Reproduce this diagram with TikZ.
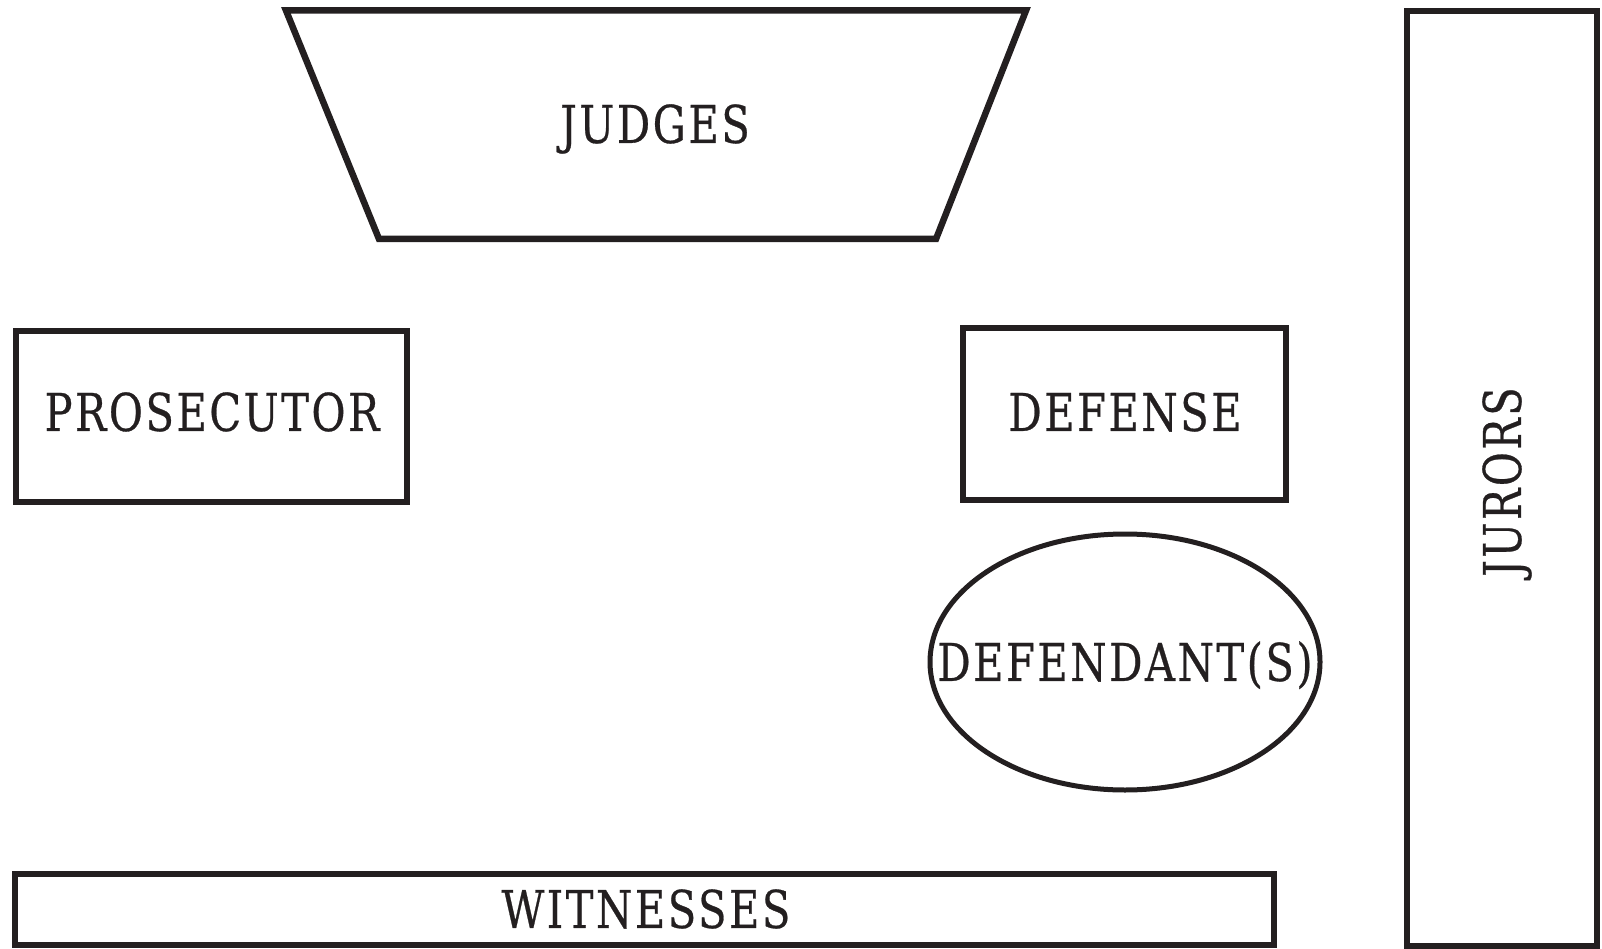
\documentclass[tikz,border=0pt]{standalone}
\usepackage{fontspec}
\setmainfont{DejaVu Serif}
\usepackage{graphicx}
\definecolor{ink}{HTML}{231F20}
\newcommand\lblt[1]{\scalebox{0.8}[1]{\addfontfeature{LetterSpace=6,FakeBold=0.6}#1}}
\begin{document}
\begin{tikzpicture}[x=1pt,y=-1pt,
  box/.style={draw=ink, line width=6.5pt, inner sep=0pt, outer sep=0pt},
  lbl/.style={text=ink, inner sep=0pt, font=\fontsize{52}{60}\selectfont, text height=37.8pt, text depth=0pt}]
\useasboundingbox (0,0) rectangle (1602,949);
% judges bench
\coordinate (j1) at (286,10.5);
\coordinate (j2) at (1026,10.5);
\coordinate (j3) at (936,239);
\coordinate (j4) at (379,239);
\draw[ink, line width=6.5pt, line join=miter] (j1) -- (j2) -- (j3) -- (j4) -- cycle;
\node[lbl] (judges) at (655,124) {\lblt{JUDGES}};
% prosecutor
\node[box, minimum width=391pt, minimum height=171pt] (prosbox) at (211.5,416.5) {};
\node[lbl] (pros) at (212,412) {\lblt{PROSECUTOR}};
% defense
\node[box, minimum width=323pt, minimum height=172pt] (defbox) at (1124.5,414) {};
\node[lbl] (def) at (1125,412) {\lblt{DEFENSE}};
% defendants
\draw[ink, line width=5pt] (1125,662) ellipse [x radius=195, y radius=128];
\node[lbl] (defd) at (1125,662) {\lblt{DEFENDANT(S)}};
% jurors
\node[box, minimum width=190pt, minimum height=935pt] (jurbox) at (1502,478.5) {};
\node[lbl, rotate=90] (jur) at (1502,482) {\lblt{JURORS}};
% witnesses
\node[box, minimum width=1259pt, minimum height=71pt] (witbox) at (644.5,909.5) {};
\node[lbl] (wit) at (646,909) {\lblt{WITNESSES}};
\end{tikzpicture}
\end{document}
